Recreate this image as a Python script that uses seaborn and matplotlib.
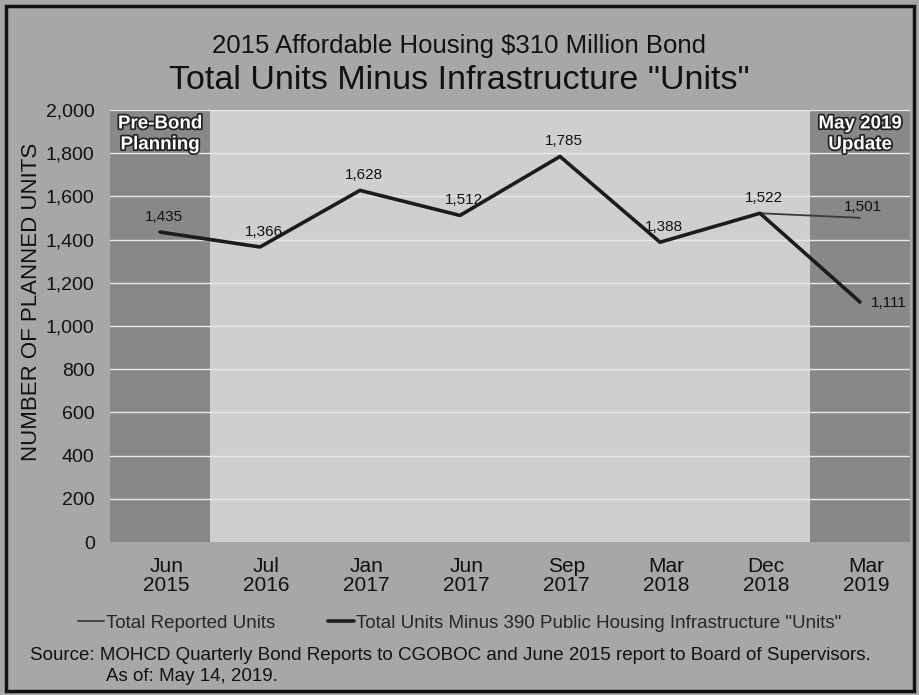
import matplotlib
matplotlib.use("Agg")
import matplotlib.pyplot as plt
import matplotlib.patheffects as pe
from matplotlib.patches import Rectangle
from matplotlib.lines import Line2D
import pandas as pd
import seaborn as sns

# Reporting periods and planned unit counts
periods = ["Jun\n2015", "Jul\n2016", "Jan\n2017", "Jun\n2017",
           "Sep\n2017", "Mar\n2018", "Dec\n2018", "Mar\n2019"]
total_reported = [1435, 1366, 1628, 1512, 1785, 1388, 1522, 1501]
minus_infrastructure = [1435, 1366, 1628, 1512, 1785, 1388, 1522, 1111]
y_ticks = [0, 200, 400, 600, 800, 1000, 1200, 1400, 1600, 1800, 2000]

series_reported = "Total Reported Units"
series_minus = 'Total Units Minus 390 Public Housing Infrastructure "Units"'

df = pd.DataFrame({
    "period": periods * 2,
    "units": total_reported + minus_infrastructure,
    "series": [series_reported] * len(periods) + [series_minus] * len(periods),
})

sns.set_theme(style="white")
FONT = ["Liberation Sans", "DejaVu Sans"]
plt.rcParams["font.family"] = FONT

fig = plt.figure(figsize=(9.19, 6.95), dpi=100)
fig.patch.set_facecolor("#a7a7a7")
ax = fig.add_axes([0.1197, 0.2201, 0.8705, 0.6216])
ax.set_facecolor("#cfcfcf")

# shaded period bands
ax.axvspan(-0.5, 0.5, color="#888888", zorder=0.5, lw=0)
ax.axvspan(6.5, 7.5, color="#888888", zorder=0.5, lw=0)
for t in y_ticks[1:]:
    ax.axhline(t, color="#e9e9e9", lw=1.0, zorder=0.8)

sns.lineplot(data=df[df.series == series_reported], x="period", y="units",
             color="#3a3a3a", lw=1.3, sort=False, ax=ax, legend=False, zorder=3)
sns.lineplot(data=df[df.series == series_minus], x="period", y="units",
             color="#1c1c1c", lw=2.6, sort=False, ax=ax, legend=False, zorder=4)

ax.set_xlim(-0.5, len(periods) - 0.5)
ax.set_ylim(0, 2000)
ax.set_yticks(y_ticks)
ax.set_yticklabels([f"{v:,}" for v in y_ticks], fontsize=14, color="#111111")
ax.set_xticks(range(len(periods)))
ax.set_xticklabels([""] * len(periods))
ax.tick_params(axis="y", pad=11, length=0)
ax.tick_params(axis="x", length=0)
ax.set_xlabel("")
ax.set_ylabel("NUMBER OF PLANNED UNITS", fontsize=16, color="#111111")
ax.yaxis.set_label_coords(-0.085, 0.555)
for s in ax.spines.values():
    s.set_visible(False)

# period labels, set slightly right of each category centre
for i, p in enumerate(periods):
    ax.annotate(p, (i, 0), xytext=(4.5, -11), textcoords="offset points",
                ha="center", va="top", fontsize=15, color="#111111",
                linespacing=1.0, annotation_clip=False)

# data labels
for i, v in enumerate(minus_infrastructure[:-1]):
    ax.annotate(f"{v:,}", (i, v), xytext=(3, 6), textcoords="offset points",
                ha="center", va="bottom", fontsize=11, color="#111111", zorder=5)
ax.annotate(f"{total_reported[-1]:,}", (7, total_reported[-1]), xytext=(2, 3),
            textcoords="offset points", ha="center", va="bottom", fontsize=11,
            color="#111111", zorder=5)
ax.annotate(f"{minus_infrastructure[-1]:,}", (7, minus_infrastructure[-1]),
            xytext=(8, -1), textcoords="offset points", ha="left", va="center",
            fontsize=11, color="#111111", zorder=5)

# band captions
outline = [pe.withStroke(linewidth=2.5, foreground="#222222")]
ax.text(0, 1975, "Pre-Bond\nPlanning", ha="center", va="top", fontsize=13.5,
        fontweight="bold", color="white", path_effects=outline, linespacing=1.3)
ax.text(7, 1975, "May 2019\nUpdate", ha="center", va="top", fontsize=13.5,
        fontweight="bold", color="white", path_effects=outline, linespacing=1.3)

# titles
fig.text(0.5, 0.934, "2015 Affordable Housing $310 Million Bond", ha="center",
         va="center", fontsize=18.5, color="#111111")
fig.text(0.5, 0.884, 'Total Units Minus Infrastructure "Units"', ha="center",
         va="center", fontsize=24.5, color="#111111")

# legend
handles = [Line2D([], [], color="#3a3a3a", lw=1.3),
           Line2D([], [], color="#1c1c1c", lw=2.6)]
fig.legend(handles, [series_reported, series_minus], loc="center",
           bbox_to_anchor=(0.5, 0.103), ncol=2, frameon=False, fontsize=13.5,
           handlelength=1.4, handletextpad=0.1, columnspacing=2.8)

# source note
fig.text(0.033, 0.057, "Source: MOHCD Quarterly Bond Reports to CGOBOC and June 2015 "
         "report to Board of Supervisors.", ha="left", va="center", fontsize=13.5,
         color="#111111")
fig.text(0.115, 0.027, "As of: May 14, 2019.", ha="left", va="center",
         fontsize=13.5, color="#111111")

# outer frame
fig.patches.append(Rectangle((0.007, 0.006), 0.988, 0.986, transform=fig.transFigure,
                             fill=False, edgecolor="#111111", lw=2.5))

fig.savefig("out.png", dpi=100, facecolor=fig.get_facecolor())
